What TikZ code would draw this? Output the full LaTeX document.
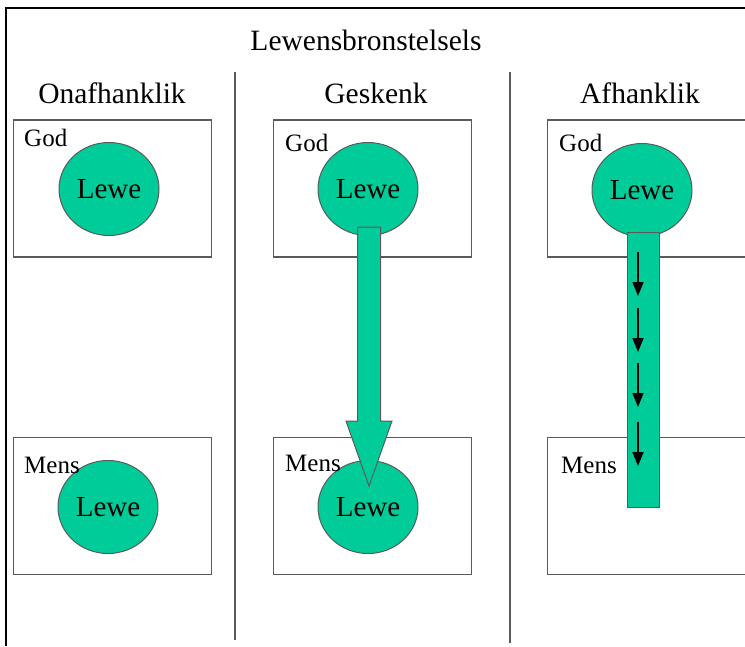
\documentclass[tikz,border=0pt]{standalone}
\usepackage{fontspec}
\setmainfont{Liberation Serif}
\usetikzlibrary{shapes.geometric,arrows.meta}
\definecolor{lgreen}{RGB}{0,204,153}
\definecolor{lgray}{RGB}{90,90,90}
\tikzset{
  panel/.style={draw=lgray,line width=1.2pt,fill=white,minimum width=198pt,minimum height=137pt,inner sep=0pt},
  lewe/.style={ellipse,draw=lgray,line width=1pt,fill=lgreen,minimum width=100pt,minimum height=93pt,inner sep=0pt,font=\fontsize{29}{32}\selectfont},
  lbl/.style={anchor=west,inner sep=0pt,font=\fontsize{25}{28}\selectfont},
  head/.style={inner sep=0pt,font=\fontsize{29.5}{32}\selectfont},
  divider/.style={draw=lgray,line width=1.3pt},
  flow/.style={draw=lgray,line width=1pt,fill=lgreen},
  small/.style={line width=1.6pt,-{Triangle[length=14pt,width=11pt]}}
}
\begin{document}
\begin{tikzpicture}[x=1pt,y=-1pt]
\useasboundingbox (0,0) rectangle (745,646);
\fill[white] (0,0) rectangle (745,646);
% frame
\coordinate (fbl) at (6,646);
\coordinate (ftl) at (6,8);
\coordinate (ftr) at (745,8);
\draw[black,line width=1.6pt] (fbl) -- (ftl) -- (ftr);
% title and headers
\node[head] (title) at (366,40) {Lewensbronstelsels};
\node[head] (h1) at (112,93) {Onafhanklik};
\node[head] (h2) at (376,93) {Geskenk};
\node[head] (h3) at (640,93) {Afhanklik};
% dividers
\coordinate (d1t) at (235,72); \coordinate (d1b) at (235,640);
\coordinate (d2t) at (510,72); \coordinate (d2b) at (510,643);
\draw[divider] (d1t) -- (d1b);
\draw[divider] (d2t) -- (d2b);
% boxes
\node[panel] (g1) at (112.5,188.5) {};
\node[panel] (g2) at (372.5,188.5) {};
\node[panel] (g3) at (646.5,188.5) {};
\node[panel] (m1) at (112.5,506) {};
\node[panel] (m2) at (372.5,506) {};
\node[panel] (m3) at (646.5,506) {};
% column 1
\node[lewe] (c1g) at (109,189) {Lewe};
\node[lewe] (c1m) at (108,507) {Lewe};
\node[lbl] (t1g) at (24,138) {God};
\node[lbl] (t1m) at (24,465) {Mens};
% column 2
\node[lewe] (c2g) at (368,189) {Lewe};
\node[lewe] (c2m) at (368,507) {Lewe};
\node[lbl] (t2g) at (285,143) {God};
\node[lbl] (t2m) at (285,463) {Mens};
\coordinate (a2s) at (369,227);
\coordinate (a2t) at (369,486);
\draw[flow] ([xshift=-11.5pt]a2s) -- ([xshift=11.5pt]a2s) -- ([xshift=11.5pt,yshift=65pt]a2t)
  -- ([xshift=23pt,yshift=65pt]a2t) -- (a2t) -- ([xshift=-23pt,yshift=65pt]a2t)
  -- ([xshift=-11.5pt,yshift=65pt]a2t) -- cycle;
% column 3
\node[lewe] (c3g) at (642,190) {Lewe};
\node[lbl] (t3g) at (559,143) {God};
\node[lbl] (t3m) at (561,465) {Mens};
\node[flow,minimum width=32pt,minimum height=275pt,inner sep=0pt] (bar) at (643,370) {};
\coordinate (s1a) at (638,252); \coordinate (s1b) at (638,296);
\coordinate (s2a) at (638,308); \coordinate (s2b) at (638,352);
\coordinate (s3a) at (638,363); \coordinate (s3b) at (638,407);
\coordinate (s4a) at (638,422); \coordinate (s4b) at (638,466);
\draw[small] (s1a) -- (s1b);
\draw[small] (s2a) -- (s2b);
\draw[small] (s3a) -- (s3b);
\draw[small] (s4a) -- (s4b);
\end{tikzpicture}
\end{document}
